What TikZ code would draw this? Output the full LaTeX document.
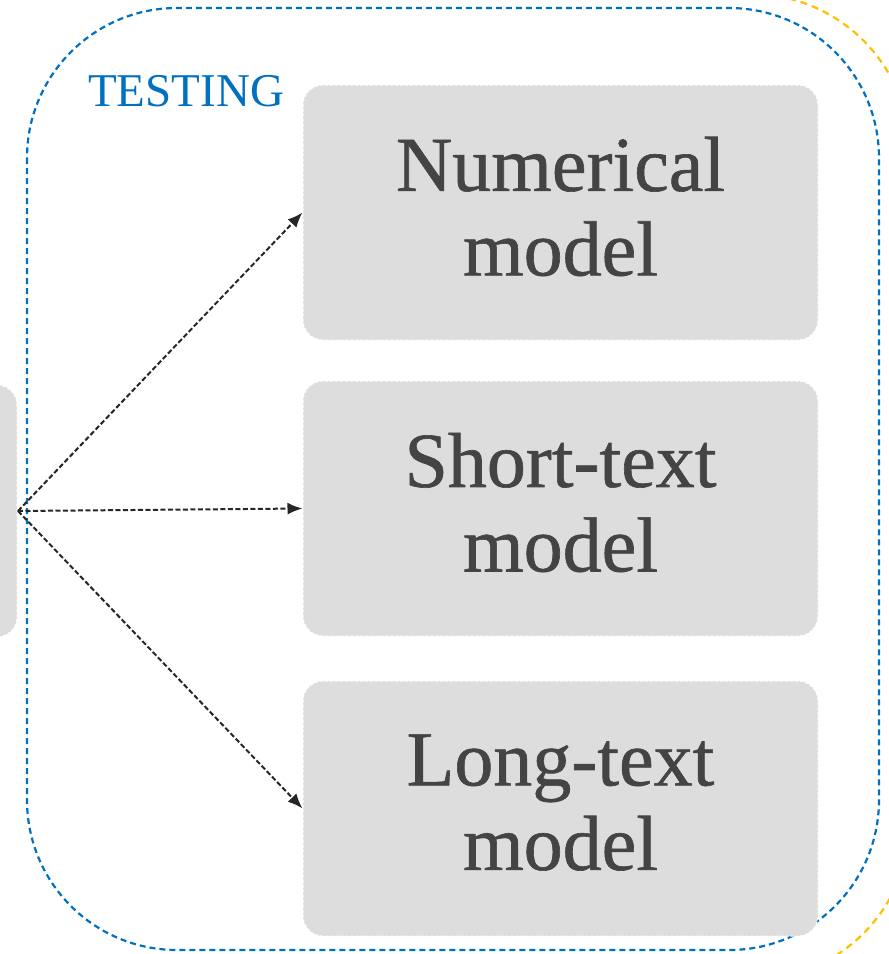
\documentclass[tikz,border=0pt]{standalone}
\usepackage{fontspec}
\newfontfamily\testfont{Liberation Serif}
\newfontfamily\boxfont[FakeBold=0.8]{Liberation Serif}
\usetikzlibrary{arrows.meta}
\definecolor{boxgray}{RGB}{221,221,221}
\definecolor{txtgray}{RGB}{68,68,68}
\definecolor{frameblue}{RGB}{0,112,192}
\definecolor{frameyellow}{RGB}{255,192,0}
\tikzset{
  modelbox/.style={fill=boxgray, draw=white, densely dashed, line width=1pt, rounded corners=20pt,
    minimum width=515pt, minimum height=255pt, inner sep=0pt},
  modeltext/.style={inner sep=0pt, align=center, text=txtgray,
    font=\boxfont\fontsize{78}{84.5}\selectfont},
  conn/.style={dash pattern=on 5pt off 2.5pt, line width=2pt, black!85, -{Latex[length=15pt,width=12pt]}},
  bluedash/.style={draw=frameblue, line width=2.2pt, dash pattern=on 6pt off 4pt},
  yellowdash/.style={draw=frameyellow, line width=2.2pt, dash pattern=on 7pt off 5pt},
}
\begin{document}
\begin{tikzpicture}[x=1pt,y=-1pt]
\useasboundingbox (0,0) rectangle (889,954);
\begin{scope}
\clip (0,0) rectangle (889,954);
\draw[yellowdash, rounded corners=159pt] (-200,-6) rectangle (910,980);
\node[fill=boxgray, draw=white, densely dashed, line width=1pt, rounded corners=20pt,
  minimum width=317pt, minimum height=252pt, inner sep=0pt] (src) at (-141.5,511) {};
\end{scope}
\draw[bluedash, rounded corners=150pt] (27,8) rectangle (879,950);
\node[anchor=base west, inner sep=0pt, text=frameblue, font=\testfont\fontsize{47}{50}\selectfont] (title) at (88,106) {TESTING};
\node[modelbox] (num) at (560.5,212.5) {};
\node[modelbox] (short) at (560.5,508.5) {};
\node[modelbox] (long) at (560.5,808.5) {};
\node[modeltext] (numtxt) at ([yshift=6pt]num.center) {Numerical\\model};
\node[modeltext] (shorttxt) at ([yshift=6pt]short.center) {Short-text\\model};
\node[modeltext] (longtxt) at ([yshift=6pt]long.center) {Long-text\\model};
\coordinate (o) at (18,511);
\draw[conn] (o) -- (num.west);
\draw[conn] (o) -- (short.west);
\draw[conn] (o) -- (long.west);
\end{tikzpicture}
\end{document}
